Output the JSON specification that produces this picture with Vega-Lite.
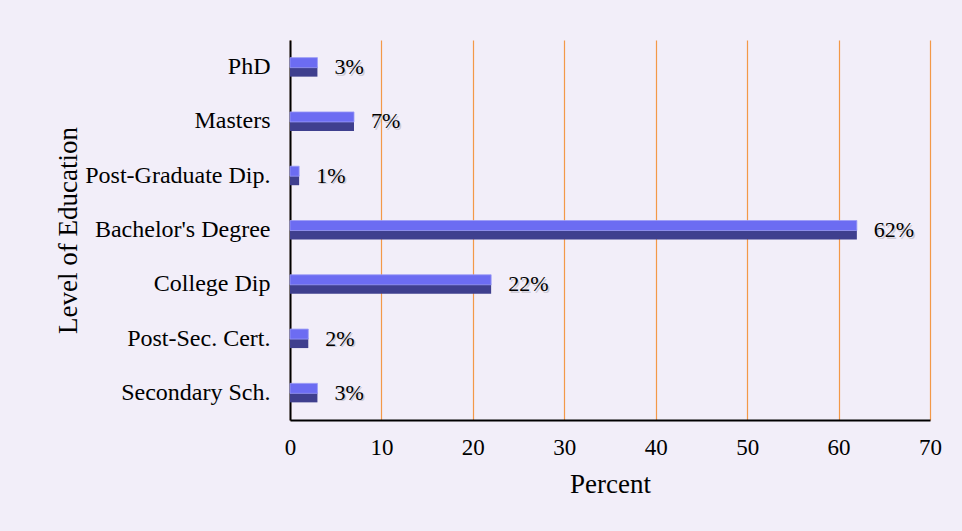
{
  "$schema": "https://vega.github.io/schema/vega-lite/v6.json",
  "width": 640,
  "height": 380,
  "autosize": {"type": "none"},
  "padding": {"left": 290, "top": 40, "right": 32, "bottom": 111},
  "background": "#f2eef9",
  "config": {
    "font": "Liberation Serif",
    "view": {"stroke": null},
    "axis": {
      "labelFont": "Liberation Serif",
      "titleFont": "Liberation Serif",
      "labelColor": "#000000",
      "titleColor": "#000000",
      "titleFontWeight": "normal"
    }
  },
  "data": {
    "values": [
      {"level": "PhD", "percent": 3, "label": "3%"},
      {"level": "Masters", "percent": 7, "label": "7%"},
      {"level": "Post-Graduate Dip.", "percent": 1, "label": "1%"},
      {"level": "Bachelor's Degree", "percent": 62, "label": "62%"},
      {"level": "College Dip", "percent": 22, "label": "22%"},
      {"level": "Post-Sec. Cert.", "percent": 2, "label": "2%"},
      {"level": "Secondary Sch.", "percent": 3, "label": "3%"}
    ]
  },
  "encoding": {
    "y": {
      "field": "level",
      "type": "nominal",
      "sort": null,
      "scale": {"paddingInner": 0, "paddingOuter": 0},
      "axis": {
        "title": "Level of Education",
        "titleFontSize": 27,
        "titlePadding": 8,
        "labelFontSize": 24,
        "labelPadding": 20,
        "labelLimit": 0,
        "ticks": false,
        "domainColor": "#000000",
        "domainWidth": 2
      }
    },
    "x": {
      "field": "percent",
      "type": "quantitative",
      "scale": {"domain": [0, 70], "nice": false},
      "axis": {
        "title": "Percent",
        "titleFontSize": 27,
        "titlePadding": 12,
        "labelFontSize": 23,
        "labelPadding": 16,
        "labelFlush": false,
        "values": [0, 10, 20, 30, 40, 50, 60, 70],
        "ticks": false,
        "grid": true,
        "gridColor": "#f39848",
        "gridWidth": 1.2,
        "domainColor": "#000000",
        "domainWidth": 2
      }
    }
  },
  "layer": [
    {"mark": {"type": "bar", "size": 10, "yOffset": 4.5, "color": "#3f3f8e"}},
    {"mark": {"type": "bar", "size": 10, "yOffset": -4.5, "color": "#6c6cf2", "stroke": "#9a9af6", "strokeWidth": 0.8}},
    {
      "mark": {"type": "text", "align": "left", "baseline": "middle", "dx": 18.5, "dy": 1.5, "fontSize": 22, "color": "#cdcad4"},
      "encoding": {"text": {"field": "label"}}
    },
    {
      "mark": {"type": "text", "align": "left", "baseline": "middle", "dx": 17, "fontSize": 22, "color": "#000000"},
      "encoding": {"text": {"field": "label"}}
    }
  ]
}
